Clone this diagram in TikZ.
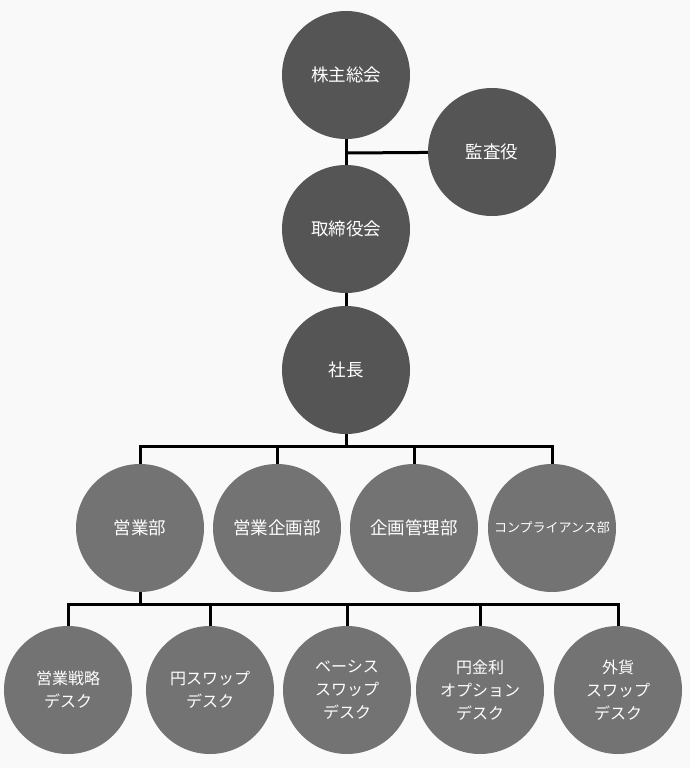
\documentclass[tikz,border=0pt]{standalone}
\usepackage{fontspec}
\setmainfont{Noto Sans CJK JP}
\usepackage{xcolor}
\definecolor{bgcol}{HTML}{F9F9F9}
\definecolor{topcol}{HTML}{555555}
\definecolor{lowcol}{HTML}{737373}

\begin{document}
\begin{tikzpicture}[x=1pt,y=-1pt,
  org/.style={circle,fill=topcol,text=white,minimum size=128pt,inner sep=0pt,
    align=center,font=\fontsize{17.5}{22}\selectfont},
  low/.style={org,fill=lowcol},
  desk/.style={low,font=\fontsize{16}{23}\selectfont},
  link/.style={line width=3pt,black}]
  \fill[bgcol] (0,0) rectangle (690,768);
  \useasboundingbox (0,0) rectangle (690,768);
  % top
  \node[org] (sokai) at (346,75) {株主総会};
  \node[org] (kansa) at (492,152) {監査役};
  \node[org] (torishimari) at (346,229) {取締役会};
  \node[org] (shacho) at (346,370) {社長};
  \coordinate (j1) at (346,153);
  \coordinate (bus1) at (346,446);
  \coordinate (bus2) at (140,604);
  % departments
  \foreach \x/\n/\lab in {140/1/営業部,277/2/営業企画部,414/3/企画管理部}
    \node[low] (bu\n) at (\x,528) {\lab};
  \node[low,font=\fontsize{13}{16}\selectfont] (bu4) at (552,528) {コンプライアンス部};
  % desks
  \foreach \x/\n/\lab in {68/1/営業戦略\\デスク,210/2/円スワップ\\デスク,347/3/ベーシス\\スワップ\\デスク,480/4/円金利\\オプション\\デスク,618/5/外貨\\スワップ\\デスク}
    \node[desk] (desk\n) at (\x,690) {\lab};
  % lines
  \begin{scope}[on background layer/.style={}]
  \draw[link] (sokai) -- (torishimari);
  \draw[link] (kansa) -- (j1);
  \draw[link] (torishimari) -- (shacho);
  \draw[link] (shacho) -- (bus1);
  \foreach \n in {1,...,4}
    \draw[link] (bus1) -| (bu\n);
  \draw[link] (bu1) -- (bus2);
  \foreach \n in {1,...,5}
    \draw[link] (bus2) -| (desk\n);
  \end{scope}
\end{tikzpicture}
\end{document}
